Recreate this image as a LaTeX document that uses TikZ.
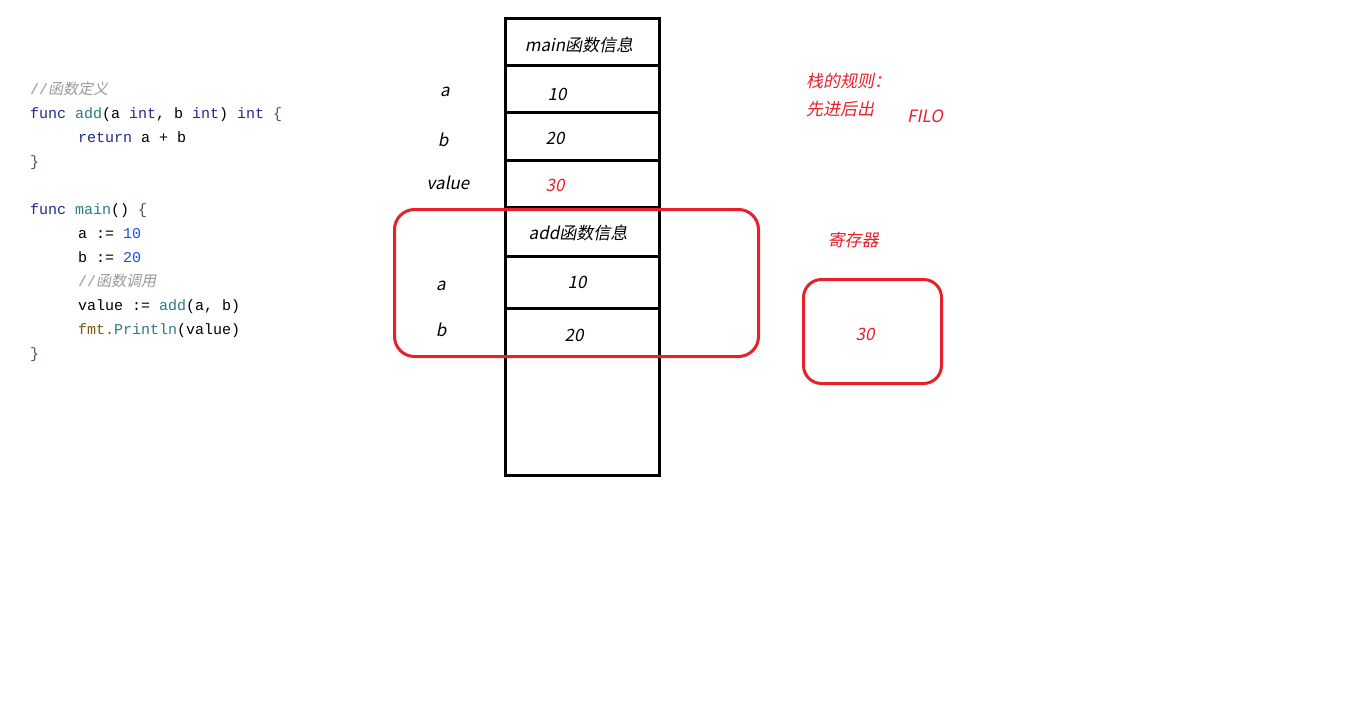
\documentclass[tikz,border=0pt]{standalone}
\usepackage{fontspec}
\setmonofont{Liberation Mono}
\newfontfamily\cjk[FakeSlant=0.2]{Noto Sans CJK SC}
\definecolor{redline}{HTML}{E8202A}
\definecolor{kw}{HTML}{1F2A8A}
\definecolor{fn}{HTML}{2E7A86}
\definecolor{num}{HTML}{1750EB}
\definecolor{cmt}{HTML}{9A9A9A}
\definecolor{brc}{HTML}{4A5A3A}
\definecolor{pkg}{HTML}{7A5A10}
\begin{document}
\begin{tikzpicture}[x=1pt,y=-1pt,
  cell/.style={draw=black,line width=3pt,minimum width=154pt,inner sep=0pt,outer sep=0pt,anchor=north west},
  lbl/.style={font=\cjk\fontsize{17}{18}\selectfont,inner sep=0pt,text=black},
  rlbl/.style={lbl,text=redline},
  code/.style={font=\ttfamily\fontsize{15}{17}\selectfont,anchor=west,inner sep=0pt,text height=11pt,text depth=3pt},
  frame/.style={draw=redline,line width=3pt,rounded corners=20pt,inner sep=0pt,outer sep=0pt,anchor=north west}]
\useasboundingbox[fill=white] (0,0) rectangle (1360,705);
% code
\node[code] (l1) at (30,90) {\textcolor{cmt}{//{\cjk\fontsize{15}{17}\selectfont 函数定义}}};
\node[code] (l2) at (30,114) {\textcolor{kw}{func} \textcolor{fn}{add}(a \textcolor{kw}{int}, b \textcolor{kw}{int}) \textcolor{kw}{int} \textcolor{brc}{\{}};
\node[code] (l3) at (78,138) {\textcolor{kw}{return} a + b};
\node[code] (l4) at (30,162) {\textcolor{brc}{\}}};
\node[code] (l5) at (30,210) {\textcolor{kw}{func} \textcolor{fn}{main}() \textcolor{brc}{\{}};
\node[code] (l6) at (78,234) {a := \textcolor{num}{10}};
\node[code] (l7) at (78,258) {b := \textcolor{num}{20}};
\node[code] (l8) at (78,282) {\textcolor{cmt}{//{\cjk\fontsize{15}{17}\selectfont 函数调用}}};
\node[code] (l9) at (78,306) {value := \textcolor{fn}{add}(a, b)};
\node[code] (l10) at (78,330) {\textcolor{pkg}{fmt.}\textcolor{fn}{Println}(value)};
\node[code] (l11) at (30,354) {\textcolor{brc}{\}}};
% stack
\node[cell,minimum height=47pt] (s1) at (505,18) {};
\node[cell,minimum height=47pt] (s2) at (505,65) {};
\node[cell,minimum height=48pt] (s3) at (505,112) {};
\node[cell,minimum height=47pt] (s4) at (505,160) {};
\node[cell,minimum height=49pt] (s5) at (505,207) {};
\node[cell,minimum height=52pt] (s6) at (505,256) {};
\node[cell,minimum height=48pt] (s7) at (505,308) {};
\node[cell,minimum height=119pt] (s8) at (505,356) {};
\node[lbl] (t1) at (579,45) {main函数信息};
\node[lbl] (va) at (445,92) {a};
\node[lbl] (v1) at (557,94) {10};
\node[lbl] (vb) at (443,140) {b};
\node[lbl] (v2) at (555,138) {20};
\node[lbl] (vv) at (448,183) {value};
\node[rlbl] (v3) at (555,185) {30};
\node[lbl] (t2) at (578,233) {add函数信息};
\node[lbl] (aa) at (441,286) {a};
\node[lbl] (a1) at (577,282) {10};
\node[lbl] (ab) at (441,330) {b};
\node[lbl] (a2) at (574,335) {20};
% add frame
\node[frame,minimum width=364pt,minimum height=147pt] (addf) at (394.5,209.5) {};
% rules
\node[rlbl,anchor=west] (r1) at (806,81) {栈的规则：};
\node[rlbl,anchor=west] (r2) at (806,109) {先进后出};
\node[rlbl] (r3) at (925,116) {FILO};
\node[rlbl] (r4) at (853,240) {寄存器};
\node[frame,rounded corners=18pt,minimum width=138pt,minimum height=104pt] (reg) at (803.5,279.5) {};
\node[rlbl] (r5) at (865,334) {30};
\end{tikzpicture}
\end{document}
